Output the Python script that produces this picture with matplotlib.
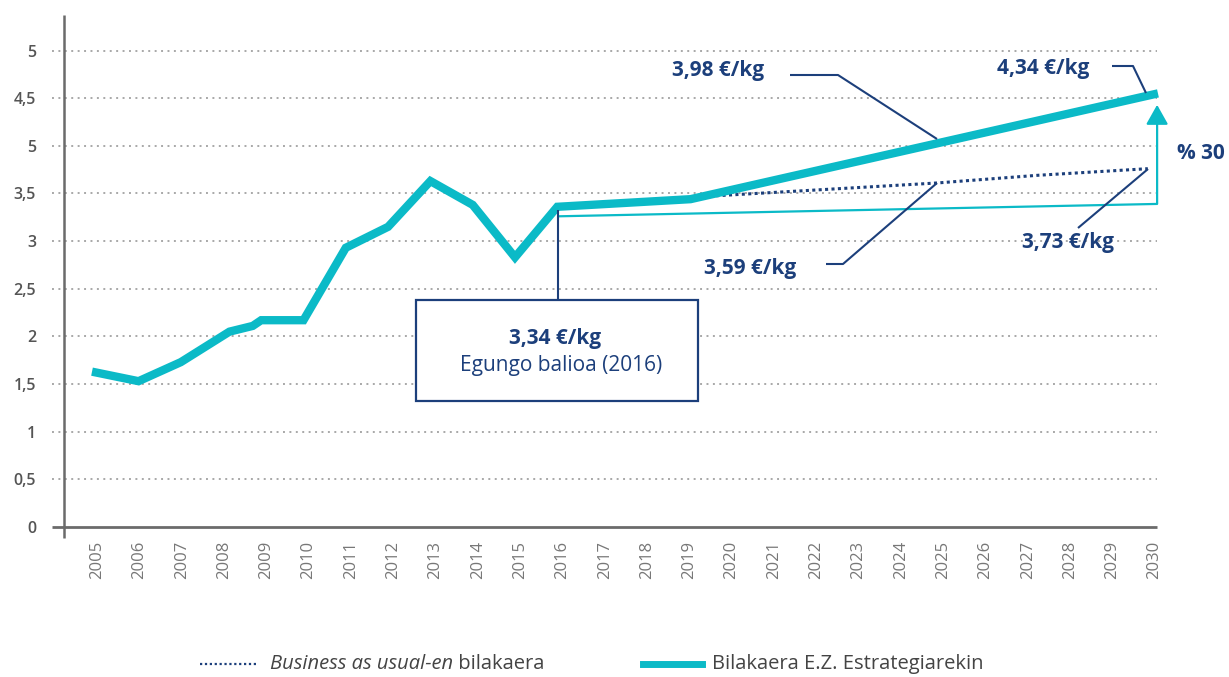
import matplotlib
matplotlib.use("Agg")
import matplotlib.pyplot as plt
from matplotlib.lines import Line2D
from matplotlib.patches import Rectangle

# ---------------- data ----------------
years_main = [2005, 2006.1, 2007.1, 2008.25, 2008.8, 2009, 2010, 2011, 2012, 2013, 2014, 2015, 2016, 2019.15, 2030.2]
vals_main = [1.63, 1.53, 1.73, 2.05, 2.11, 2.17, 2.17, 2.93, 3.15, 3.63, 3.38, 2.83, 3.36, 3.44, 4.55]

years_bau = [2019.15, 2024.98, 2027.34, 2029.96]
vals_bau = [3.46, 3.61, 3.69, 3.76]

years_ref = [2016, 2030.18]
vals_ref = [3.26, 3.39]
arrow_top = 4.43

tick_years = list(range(2005, 2031))
ytick_vals = [0, 0.5, 1, 1.5, 2, 2.5, 3, 3.5, 4, 4.5, 5]
ytick_labels = ['0', '0,5', '1', '1,5', '2', '2,5', '3', '3,5', '5', '4,5', '5']

lbl_398 = "3,98 €/kg"
lbl_434 = "4,34 €/kg"
lbl_359 = "3,59 €/kg"
lbl_373 = "3,73 €/kg"
lbl_pct = "% 30"
lbl_box1 = "3,34 €/kg"
lbl_box2 = "Egungo balioa (2016)"
leg_it = "Business as usual-en"
leg_rest = " bilakaera"
leg_main = "Bilakaera E.Z. Estrategiarekin"

# ---------------- style ----------------
TEAL = "#0bbac7"
NAVY = "#1c3f7b"
GRID = "#a8a8a8"
AX = "#6b6b6b"
TXT = "#555555"
FONT = "Open Sans"
plt.rcParams['font.family'] = [FONT, 'DejaVu Sans']

W, H = 1229, 677
fig = plt.figure(figsize=(W / 100, H / 100), dpi=100)

def yr(px):
    return 2005 + (px - 92) / 42.3

def val(py):
    return (527 - py) / 95.3

ax = fig.add_axes([52 / W, 1 - 527 / H, (1157 - 52) / W, (527 - 15) / H])
ax.set_xlim(yr(52), yr(1157))
ax.set_ylim(0, val(15))
for s in ax.spines.values():
    s.set_visible(False)

# gridlines
for v in ytick_vals[1:]:
    ax.axhline(v, color=GRID, lw=1.4, ls=(0, (1, 2.3)), zorder=1)

# axes lines
ax.plot([yr(52), yr(1157)], [0, 0], color=AX, lw=2.0, clip_on=False, zorder=2, solid_capstyle='butt')
ax.plot([yr(64), yr(64)], [val(538), val(15)], color=AX, lw=1.8, clip_on=False, zorder=2, solid_capstyle='butt')

ax.set_yticks(ytick_vals)
ax.set_yticklabels(ytick_labels, fontsize=11.5, color=TXT, fontweight='semibold')
ax.tick_params(axis='y', length=0, pad=11.5)
ax.set_xticks([t + 0.12 for t in tick_years])
ax.set_xticklabels([str(t) for t in tick_years], rotation=90, fontsize=12, color="#777777")
ax.tick_params(axis='x', length=0, pad=10)

# series
ax.plot(years_ref, vals_ref, color=TEAL, lw=1.6, zorder=3, clip_on=False, solid_capstyle='butt')
ax.annotate("", xy=(years_ref[-1], arrow_top), xytext=(years_ref[-1], vals_ref[-1]),
            arrowprops=dict(arrowstyle='-|>,head_length=0.8,head_width=0.45', color=TEAL,
                            lw=1.6, shrinkA=0, shrinkB=0, mutation_scale=15),
            annotation_clip=False, zorder=3)
ax.plot(years_bau, vals_bau, color=NAVY, lw=2.2, ls=(0, (1, 1.1)), zorder=4, clip_on=False)
ax.plot(years_main, vals_main, color=TEAL, lw=6, zorder=5, clip_on=False,
        solid_joinstyle='miter', solid_capstyle='butt')

# annotations
def connector(xs, ys):
    ax.plot(xs, ys, color=NAVY, lw=1.5, zorder=6, clip_on=False, solid_capstyle='butt')

bold = dict(color=NAVY, fontsize=15, fontweight='bold', ha='center', va='center', zorder=7)

connector([yr(790), yr(838), yr(937)], [val(75), val(75), val(139)])
ax.text(yr(718), val(70), lbl_398, **bold)

connector([yr(1112), yr(1133), yr(1146)], [val(66), val(66), val(93)])
ax.text(yr(1043), val(68), lbl_434, **bold)

connector([yr(826), yr(843), yr(937)], [val(264), val(264), val(183)])
ax.text(yr(750), val(268), lbl_359, **bold)

connector([yr(1078), yr(1148)], [val(228), val(169)])
ax.text(yr(1068), val(242), lbl_373, **bold)

ax.text(yr(1201), val(153), lbl_pct, **bold)

# box
connector([yr(558), yr(558)], [val(210), val(300)])
ax.add_patch(Rectangle((yr(416), val(401)), yr(698) - yr(416), val(300) - val(401),
                       fill=True, facecolor='white', edgecolor=NAVY, lw=1.6, zorder=6))
ax.text(yr(555), val(338), lbl_box1, **bold)
ax.text(yr(561), val(365), lbl_box2, color=NAVY, fontsize=15, ha='center', va='center', zorder=7)

# legend (manual)
ly = 1 - 664 / H
fig.add_artist(Line2D([200 / W, 258 / W], [ly, ly], color=NAVY, lw=1.6, ls=(0, (1, 1.2))))
fig.add_artist(Line2D([643 / W, 702 / W], [ly, ly], color=TEAL, lw=5))
t1 = fig.text(270 / W, ly, leg_it, fontsize=14.5, style='italic', color="#444444", va='center', ha='left')
fig.canvas.draw()
bb = t1.get_window_extent(renderer=fig.canvas.get_renderer())
fig.text(bb.x1 / W, ly, leg_rest, fontsize=14.5, color="#444444", va='center', ha='left')
fig.text(712 / W, ly, leg_main, fontsize=14.5, color="#444444", va='center', ha='left')

fig.savefig("out.png", dpi=100)
